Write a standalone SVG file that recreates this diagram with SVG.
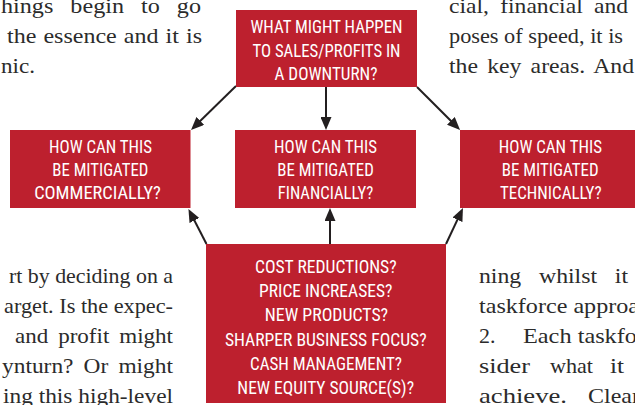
<svg xmlns="http://www.w3.org/2000/svg" width="635" height="405" viewBox="0 0 635 405">
  <defs>
    <marker id="head" markerUnits="userSpaceOnUse" markerWidth="13" markerHeight="11" refX="7" refY="5.5" orient="auto">
      <path d="M0,0 L13,5.5 L0,11 Z" fill="#231f20"/>
    </marker>
    <style>
      .body { font-family: "Liberation Serif", "Times New Roman", serif; font-size: 22px; fill: #2b2b2b; }
      .box { fill: #bd202e; }
      .lbl { font-family: "Liberation Sans Narrow", "Roboto Condensed", "Liberation Sans", Arial, sans-serif; font-size: 18px; fill: #ffffff; text-anchor: middle; }
      .edge { stroke: #231f20; stroke-width: 2; fill: none; marker-end: url(#head); }
    </style>
  </defs>

  <!-- surrounding page copy, justified column lines -->
  <g id="page-text" class="body">
    <text x="1" y="12.7" word-spacing="10" textLength="200" lengthAdjust="spacingAndGlyphs">hings begin to go</text>
    <text x="7" y="43" word-spacing="1" textLength="195" lengthAdjust="spacingAndGlyphs">the essence and it is</text>
    <text x="1" y="72.7" textLength="34" lengthAdjust="spacingAndGlyphs">nic.</text>

    <text x="449" y="12.7" word-spacing="5" textLength="179" lengthAdjust="spacingAndGlyphs">cial, financial and</text>
    <text x="449" y="43" textLength="174" lengthAdjust="spacingAndGlyphs">poses of speed, it is</text>
    <text x="449" y="72.7" word-spacing="3" textLength="185" lengthAdjust="spacingAndGlyphs">the key areas. And</text>

    <text x="9" y="283" textLength="164" lengthAdjust="spacingAndGlyphs">rt by deciding on a</text>
    <text x="4" y="313" textLength="169" lengthAdjust="spacingAndGlyphs">arget. Is the expec-</text>
    <text x="15" y="343" word-spacing="4" textLength="158" lengthAdjust="spacingAndGlyphs">and profit might</text>
    <text x="2" y="373" word-spacing="4" textLength="171" lengthAdjust="spacingAndGlyphs">ynturn? Or might</text>
    <text x="3" y="403" textLength="170" lengthAdjust="spacingAndGlyphs">ing this high-level</text>

    <text x="479" y="283" word-spacing="11" textLength="149" lengthAdjust="spacingAndGlyphs">ning whilst it</text>
    <text x="479" y="313" textLength="160" lengthAdjust="spacingAndGlyphs">taskforce approa</text>
    <text x="479" y="343">2.</text>
    <text x="523" y="343" textLength="114" lengthAdjust="spacingAndGlyphs">Each taskfo</text>
    <text x="479" y="373" textLength="51" lengthAdjust="spacingAndGlyphs">sider</text>
    <text x="550" y="373" textLength="43" lengthAdjust="spacingAndGlyphs">what</text>
    <text x="610" y="373" textLength="14" lengthAdjust="spacingAndGlyphs">it</text>
    <text x="479" y="403" textLength="88" lengthAdjust="spacingAndGlyphs">achieve.</text>
    <text x="588" y="403" textLength="52" lengthAdjust="spacingAndGlyphs">Clear</text>
  </g>

  <!-- connectors -->
  <g id="connectors">
    <line class="edge" x1="236" y1="86" x2="195.3" y2="125.8" stroke-width="1.4"/>
    <line class="edge" x1="326" y1="87" x2="326" y2="124"/>
    <line class="edge" x1="417" y1="87" x2="455.8" y2="125.8"/>
    <line class="edge" x1="206.5" y1="244" x2="191.2" y2="214.3"/>
    <line class="edge" x1="330" y1="244" x2="330" y2="214"/>
    <line class="edge" x1="446" y1="244" x2="460.4" y2="213.4"/>
  </g>

  <g id="downturn">
    <rect class="box" x="236" y="10" width="181" height="77"/>
    <text class="lbl" x="326.5" y="33.3" textLength="152" lengthAdjust="spacingAndGlyphs">WHAT MIGHT HAPPEN</text>
    <text class="lbl" x="326.5" y="56.7" textLength="148" lengthAdjust="spacingAndGlyphs">TO SALES/PROFITS IN</text>
    <text class="lbl" x="326" y="80" textLength="103" lengthAdjust="spacingAndGlyphs">A DOWNTURN?</text>
  </g>

  <g id="commercial">
    <rect class="box" x="10" y="130" width="180.5" height="78"/>
    <text class="lbl" x="100.5" y="152.6" textLength="103" lengthAdjust="spacingAndGlyphs">HOW CAN THIS</text>
    <text class="lbl" x="100.3" y="175.5" textLength="96" lengthAdjust="spacingAndGlyphs">BE MITIGATED</text>
    <text class="lbl" x="97.5" y="198.5" textLength="126.7" lengthAdjust="spacingAndGlyphs">COMMERCIALLY?</text>
  </g>

  <g id="financial">
    <rect class="box" x="235" y="130" width="181" height="78"/>
    <text class="lbl" x="325.5" y="152.6" textLength="103" lengthAdjust="spacingAndGlyphs">HOW CAN THIS</text>
    <text class="lbl" x="325.5" y="175.5" textLength="96.5" lengthAdjust="spacingAndGlyphs">BE MITIGATED</text>
    <text class="lbl" x="325.5" y="198.5" textLength="95.5" lengthAdjust="spacingAndGlyphs">FINANCIALLY?</text>
  </g>

  <g id="technical">
    <rect class="box" x="460" y="130" width="180" height="78"/>
    <text class="lbl" x="550.4" y="152.6" textLength="103.3" lengthAdjust="spacingAndGlyphs">HOW CAN THIS</text>
    <text class="lbl" x="550.2" y="175.5" textLength="97" lengthAdjust="spacingAndGlyphs">BE MITIGATED</text>
    <text class="lbl" x="550.8" y="198.5" textLength="101.7" lengthAdjust="spacingAndGlyphs">TECHNICALLY?</text>
  </g>

  <g id="measures">
    <rect class="box" x="206" y="244" width="240" height="159"/>
    <text class="lbl" x="325.8" y="272.7" textLength="141.7" lengthAdjust="spacingAndGlyphs">COST REDUCTIONS?</text>
    <text class="lbl" x="325.7" y="296.5" textLength="133.3" lengthAdjust="spacingAndGlyphs">PRICE INCREASES?</text>
    <text class="lbl" x="326.5" y="320.8" textLength="123.3" lengthAdjust="spacingAndGlyphs">NEW PRODUCTS?</text>
    <text class="lbl" x="325.8" y="345.5" textLength="201.7" lengthAdjust="spacingAndGlyphs">SHARPER BUSINESS FOCUS?</text>
    <text class="lbl" x="326" y="370" textLength="152" lengthAdjust="spacingAndGlyphs">CASH MANAGEMENT?</text>
    <text class="lbl" x="325.7" y="394" textLength="176.7" lengthAdjust="spacingAndGlyphs">NEW EQUITY SOURCE(S)?</text>
  </g>
</svg>
